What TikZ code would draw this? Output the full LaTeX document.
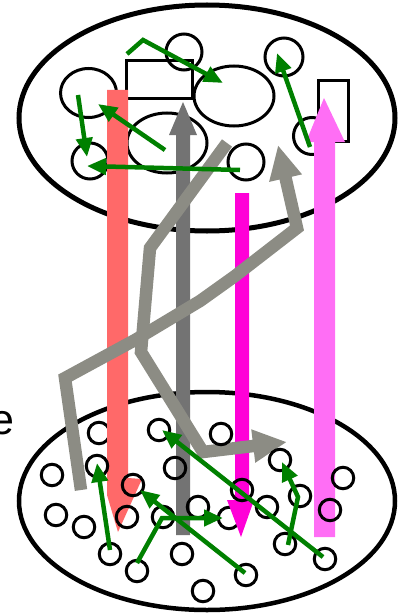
\documentclass[tikz,border=0pt]{standalone}
\usepackage{fontspec}
\setmainfont{Liberation Sans}
\usetikzlibrary{arrows.meta}
\definecolor{grn}{RGB}{0,128,0}
\definecolor{redbar}{RGB}{255,105,105}
\definecolor{pinkbar}{RGB}{255,110,245}
\definecolor{dotbar}{RGB}{115,115,115}
\definecolor{magbar}{RGB}{255,0,215}
\definecolor{graypath}{RGB}{140,140,132}
\begin{document}
\begin{tikzpicture}[x=1pt,y=-1pt,
  outl/.style={draw=black,line width=3pt},
  bigell/.style={black,line width=5pt},
  sc/.style={circle,draw=black,line width=3pt,minimum size=21.5pt,inner sep=0pt},
  tc/.style={circle,draw=black,line width=3pt,inner sep=0pt},
  garrow/.style={grn,line width=4.5pt,line join=miter,-{Triangle[length=19pt,width=16pt]}},
  gpath/.style={graypath,line width=12.5pt,line join=miter,line cap=butt,-{Triangle[length=34pt,width=31pt]}},
]
\useasboundingbox (0,0) rectangle (405,615);
\clip (0,0) rectangle (405,615);

% ---------- top ellipse and its contents ----------
\draw[bigell] (207,118) ellipse [x radius=188pt, y radius=113pt];
\node[tc,minimum size=36pt] (t1) at (184,52) {};
\draw[outl] (126,61) rectangle (192,99);
\draw[outl] (88.5,93) ellipse [x radius=28pt, y radius=24.5pt];
\draw[outl] (234,96) ellipse [x radius=40pt, y radius=30pt];
\node[tc,minimum size=38pt] (t2) at (284,57) {};
\draw[outl] (318,81) rectangle (348,141);
\node[tc,minimum size=37pt] (t3) at (312,136) {};
\draw[outl] (167,143) ellipse [x radius=40pt, y radius=30pt];
\node[tc,minimum size=36pt] (t4) at (90,161) {};
\node[tc,minimum size=36pt] (t5) at (246,162) {};

% ---------- bottom ellipse ----------
\draw[bigell,line width=4.5pt] (207,501) ellipse [x radius=188pt, y radius=109pt];
\node[sc] (b1) at (99,433) {};
\node[sc] (b17) at (229,518) {};

% ---------- vertical bars ----------
\fill[redbar] (107,90) -- (128,90) -- (128,478) -- (142,479) -- (118,532) -- (107,495) -- cycle;
\fill[dotbar] (176,535) -- (176,135) -- (169,135) -- (183,102) -- (197,135) -- (190,135) -- (190,535) -- cycle;
\fill[magbar] (235,193) -- (249,193) -- (249,500) -- (254,500) -- (241,537) -- (227,500) -- (235,500) -- cycle;
\fill[pinkbar] (314,537) -- (314,142) -- (306,142) -- (324,98) -- (345,142) -- (335,142) -- (335,537) -- cycle;

% ---------- gray paths ----------
\coordinate (ga0) at (227,143);
\coordinate (ga1) at (150,248);
\coordinate (ga2) at (141,352);
\coordinate (ga3) at (203,452);
\coordinate (ga4) at (287,442);
\draw[gpath] (ga0) -- (ga1) -- (ga2) -- (ga3) -- (ga4);
\coordinate (gb0) at (81,490);
\coordinate (gb1) at (65,378);
\coordinate (gb2) at (135,340);
\coordinate (gb3) at (200,301);
\coordinate (gb4) at (235,276);
\coordinate (gb5) at (297,228);
\coordinate (gb6) at (278,145);
\draw[gpath] (gb0) -- (gb1) -- (gb2) -- (gb3) -- (gb4) -- (gb5) -- (gb6);

% ---------- bottom circles ----------
\foreach \n/\x/\y in {2/159/430,3/221/434,4/52/475,5/97/466,6/175/468,7/133/485,
  8/280/460,9/343/478,10/242/490,11/300/496,12/56/515,13/84/527,14/127/517,
  15/163/517,16/198/507,18/267/507,19/330/510,20/110/554,21/137/571,22/182/554,
  23/203/591,24/246/575,25/285/544,26/325/559}
  \node[sc] (b\n) at (\x,\y) {};

% ---------- text ----------
\node[anchor=base west,inner sep=0pt,font=\fontsize{43}{43}\selectfont] (txt) at (-10,434) {e};

% ---------- green arrows (top) ----------
\coordinate (a1s) at (127,54); \coordinate (a1m) at (143,40); \coordinate (a1e) at (223,83);
\draw[garrow] (a1s) -- (a1m) -- (a1e);
\coordinate (a2s) at (165,150); \coordinate (a2e) at (98,104);
\draw[garrow] (a2s) -- (a2e);
\coordinate (a3s) at (78,95); \coordinate (a3e) at (87,157);
\draw[garrow] (a3s) -- (a3e);
\coordinate (a4s) at (240,170); \coordinate (a4e) at (87,166);
\draw[garrow] (a4s) -- (a4e);
\coordinate (a5s) at (310,147); \coordinate (a5e) at (277,53);
\draw[garrow] (a5s) -- (a5e);

% ---------- green arrows (bottom) ----------
\coordinate (c1s) at (110,550); \coordinate (c1e) at (97,463);
\draw[garrow] (c1s) -- (c1e);
\coordinate (c2s) at (137,563); \coordinate (c2m) at (162,518); \coordinate (c2e) at (223,518);
\draw[garrow] (c2s) -- (c2m) -- (c2e);
\coordinate (c3s) at (245,573); \coordinate (c3e) at (140,490);
\draw[garrow] (c3s) -- (c3e);
\coordinate (c4s) at (323,557); \coordinate (c4e) at (162,430);
\draw[garrow] (c4s) -- (c4e);
\coordinate (c5s) at (288,545); \coordinate (c5m) at (298,497); \coordinate (c5e) at (282,462);
\draw[garrow] (c5s) -- (c5m) -- (c5e);
\end{tikzpicture}
\end{document}
